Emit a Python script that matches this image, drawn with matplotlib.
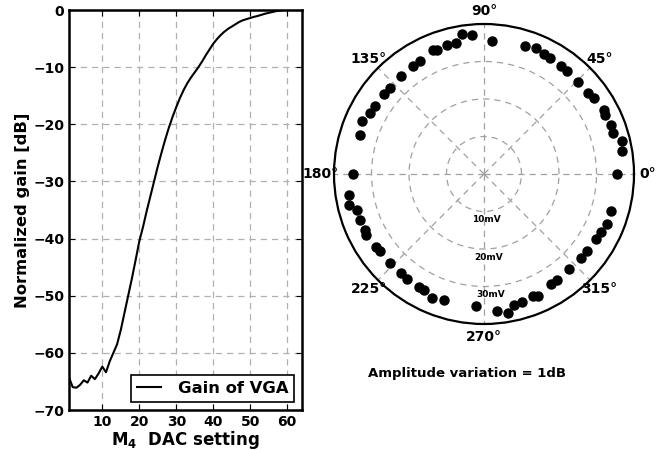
import numpy as np
import matplotlib
matplotlib.use("Agg")
import matplotlib.pyplot as plt

plt.rcParams['font.family'] = ['DejaVu Sans']
plt.rcParams['font.weight'] = 'bold'

# ganancia normalizada del VGA vs. ajuste del DAC M4
dac = np.arange(1, 60)
gain_db = [-64.3, -66.0, -66.1, -65.6, -64.8, -65.2, -64.0, -64.6, -63.6, -62.4,
           -63.4, -61.5, -60.0, -58.5, -56.0, -53.0, -50.0, -47.0, -43.8, -40.5,
           -38.0, -35.2, -32.6, -30.0, -27.4, -25.0, -22.7, -20.6, -18.7, -17.0,
           -15.4, -14.0, -12.8, -11.8, -10.9, -10.0, -9.0, -7.9, -6.9, -5.9,
           -5.1, -4.4, -3.8, -3.3, -2.9, -2.5, -2.1, -1.8, -1.6, -1.4,
           -1.2, -1.05, -0.85, -0.65, -0.5, -0.35, -0.2, -0.1, 0.0]

# puntos del diagrama polar (fase en grados, amplitud en mV)
fase_deg = [86.6, 72.4, 67.4, 63.4, 60.5, 54.5, 51.0, 44.4, 37.9, 34.7,
            27.9, 26.0, 21.3, 17.6, 13.5, 9.3, 0.0, 343.6, 338.1, 333.4,
            330.1, 323.3, 319.0, 311.8, 304.6, 301.2, 293.9, 291.8, 286.7, 282.8,
            279.6, 275.4, 266.7, 252.3, 247.4, 242.7, 240.0, 233.8, 230.2, 223.6,
            216.6, 214.1, 207.2, 205.0, 200.2, 196.0, 192.8, 188.7, 180.0, 162.5,
            156.6, 151.8, 148.3, 141.2, 137.6, 130.0, 123.4, 119.6, 112.3, 110.7,
            106.0, 101.9, 98.8, 94.9]
amp_px = [133.5, 134.6, 136.5, 134.2, 133.3, 132.1, 132.0, 132.2, 131.8, 133.5,
          135.8, 135.1, 136.0, 135.4, 142.3, 139.8, 133.0, 132.8, 133.0, 130.5,
          129.7, 128.4, 128.1, 127.5, 128.5, 128.6, 133.1, 131.8, 133.6, 134.0,
          141.0, 138.0, 131.9, 132.7, 134.3, 131.0, 130.5, 129.7, 128.9, 129.2,
          129.9, 130.0, 133.0, 131.7, 132.4, 132.1, 138.4, 136.6, 131.0, 130.4,
          132.5, 128.9, 128.5, 128.3, 127.6, 128.4, 128.9, 130.3, 134.4, 132.9,
          134.5, 133.9, 141.7, 139.8]
amp_mv = [v / 3.75 for v in amp_px]

ang_ticks = [0, 45, 90, 135, 180, 225, 270, 315]
ang_labels = [str(a) + '\u00b0' for a in ang_ticks]
r_ticks = [10, 20, 30]
r_labels = ['10mV', '20mV', '30mV']

fig = plt.figure(figsize=(6.63, 4.5), dpi=100)

# ---- grafico izquierdo
ax1 = fig.add_axes([69/663, 1-410/450, 233/663, 400/450])
ax1.plot(dac, gain_db, 'k-', lw=1.5, label='Gain of VGA')
ax1.set_xlim(1, 64)
ax1.set_ylim(-70, 0)
ax1.set_xticks([10, 20, 30, 40, 50, 60])
ax1.set_yticks([0, -10, -20, -30, -40, -50, -60, -70])
ax1.grid(True, ls='--', color='#b0b0b0', lw=0.9, dashes=(5, 4))
ax1.tick_params(direction='in', top=True, right=True, labelsize=10, length=4)
for s in ax1.spines.values():
    s.set_linewidth(1.8)
ax1.set_xlabel('M$_\\mathbf{4}$  DAC setting', fontsize=12, fontweight='bold', labelpad=0)
ax1.set_ylabel('Normalized gain [dB]', fontsize=11.8, fontweight='bold', labelpad=2)
leg = ax1.legend(loc='lower right', fontsize=11.8, fancybox=False, borderaxespad=0.5,
                 handlelength=1.5, handletextpad=1.0, borderpad=0.35, framealpha=1)
leg.get_frame().set_edgecolor('k')
leg.get_frame().set_linewidth(1.2)

# ---- diagrama polar
ax2 = fig.add_axes([334/663, 1-324/450, 300/663, 300/450], projection='polar')
ax2.plot(np.radians(fase_deg), amp_mv, 'ko', ms=6.5, ls='none')
ax2.set_ylim(0, 40)
ax2.set_thetagrids(ang_ticks, ang_labels)
ax2.set_rgrids(r_ticks, [''] * len(r_ticks))
for r, lab in zip(r_ticks, r_labels):
    ax2.text(np.radians(273), r + 2.2, lab, ha='center', va='center', fontsize=6.5,
             fontweight='bold')
ax2.grid(True, ls='--', color='#a0a0a0', lw=0.9, dashes=(5, 4))
ax2.spines['polar'].set_linewidth(1.6)
ax2.tick_params(axis='x', pad=-1, labelsize=10)

fig.text(467/663, 1-373/450, 'Amplitude variation = 1dB', ha='center', va='center',
         fontsize=9.5, fontweight='bold')

fig.savefig('out.png', dpi=100)
